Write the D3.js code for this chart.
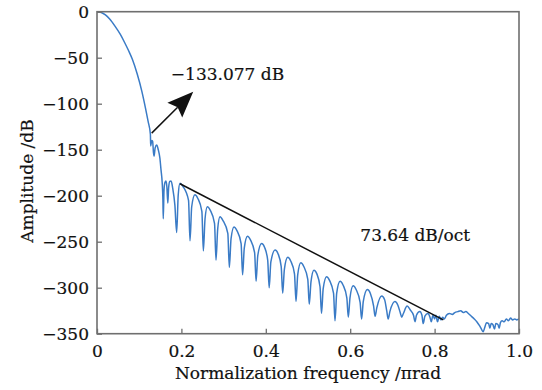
<!DOCTYPE html>
<html>
<head>
<meta charset="utf-8">
<script src="https://cdn.jsdelivr.net/npm/d3@7"></script>
<style>
  body { margin: 0; background: #fff; }
  text { font-family: 'DejaVu Serif', serif; fill: #111; stroke: #111; stroke-width: 0.2px; }
</style>
</head>
<body>
<div id="chart"></div>
<script>
// Spectrum: [normalized frequency, amplitude dB]
var mainLobe = [
  [0, 0], [0.01, -0.8], [0.02, -3.5], [0.03, -8], [0.043, -16], [0.055, -24.5],
  [0.066, -34], [0.075, -42.5], [0.084, -52], [0.0955, -68], [0.106, -86],
  [0.115, -105], [0.121, -119], [0.1265, -133]
]

var nearLobes = [
  [0.1272, -146], [0.1298, -140], [0.1318, -141], [0.1338, -153], [0.1352, -157],
  [0.1378, -148], [0.1414, -145], [0.1452, -150], [0.149, -159], [0.1517, -172],
  [0.1545, -186], [0.1562, -205], [0.157, -225], [0.1588, -194], [0.1608, -186],
  [0.1635, -184], [0.1655, -190], [0.1678, -208], [0.1698, -191], [0.1725, -184.5],
  [0.1755, -184], [0.1795, -192], [0.1845, -210], [0.1888, -240]
]

var sideLobes = [
  [0.1925, -199], [0.1967, -186.5], [0.2037, -190], [0.2169, -205], [0.2204, -249],
  [0.2244, -212], [0.232, -199], [0.239, -203], [0.2485, -217], [0.252, -260],
  [0.256, -225], [0.2615, -212], [0.2685, -216], [0.2785, -230], [0.282, -270],
  [0.286, -236], [0.2915, -223], [0.2985, -227], [0.31, -241], [0.3136, -278],
  [0.3176, -247], [0.3246, -234], [0.3316, -238], [0.3415, -252], [0.345, -286],
  [0.349, -257], [0.3566, -244], [0.3636, -248], [0.3735, -262], [0.377, -293],
  [0.381, -265], [0.39, -252], [0.397, -256], [0.4045, -270], [0.408, -300],
  [0.412, -272], [0.422, -259], [0.429, -263], [0.4365, -277], [0.44, -306],
  [0.444, -280], [0.452, -267], [0.459, -271], [0.468, -285], [0.4716, -315],
  [0.4756, -286], [0.483, -273], [0.49, -277], [0.4995, -291], [0.503, -318],
  [0.507, -294], [0.514, -281], [0.521, -285], [0.5285, -299], [0.532, -328],
  [0.536, -301], [0.544, -288], [0.551, -292], [0.5605, -306], [0.564, -336],
  [0.568, -306], [0.576, -293], [0.583, -297], [0.592, -311], [0.5955, -332],
  [0.5995, -311], [0.607, -298], [0.614, -302], [0.6235, -316], [0.627, -334],
  [0.631, -315], [0.6406, -302], [0.6476, -306], [0.6555, -320], [0.659, -331],
  [0.663, -322], [0.6746, -309], [0.6816, -313], [0.6865, -325], [0.69, -334],
  [0.694, -326], [0.706, -315], [0.713, -319], [0.7185, -327], [0.722, -332],
  [0.726, -328], [0.735, -320], [0.742, -324], [0.75, -330], [0.7536, -337]
]

var tailNoise = [
  [0.757, -330], [0.765, -326], [0.770, -330], [0.773, -339], [0.777, -331],
  [0.784, -328], [0.789, -332], [0.792, -337], [0.796, -330], [0.800, -334],
  [0.803, -330], [0.807, -337], [0.811, -331], [0.815, -335], [0.819, -332],
  [0.823, -334], [0.828, -330], [0.835, -328], [0.842, -329], [0.848, -327],
  [0.855, -326], [0.862, -325], [0.868, -327], [0.874, -326], [0.880, -328],
  [0.887, -331], [0.894, -334], [0.900, -337], [0.906, -341], [0.911, -345],
  [0.915, -348], [0.919, -343], [0.923, -338], [0.928, -339], [0.931, -344],
  [0.934, -339], [0.938, -340], [0.942, -345], [0.945, -339], [0.950, -340],
  [0.953, -344], [0.956, -338], [0.960, -336], [0.965, -337], [0.970, -334],
  [0.975, -336], [0.980, -333], [0.985, -335], [0.990, -334], [0.995, -335],
  [1.0, -334]
]

// Axis ticks
var xTicks = [0, 0.2, 0.4, 0.6, 0.8, 1.0]
var xTickLabels = ['0', '0.2', '0.4', '0.6', '0.8', '1.0']
var yTicks = [0, -50, -100, -150, -200, -250, -300, -350]
var yTickLabels = ['0', '\u221250', '\u2212100', '\u2212150', '\u2212200', '\u2212250', '\u2212300', '\u2212350']

// Annotations
var arrowStart = [0.1296, -132]
var arrowEnd = [0.228, -87]
var slopeStart = [0.1967, -187]
var slopeEnd = [0.8207, -335]
var annotationTexts = ['\u2212133.077 dB', '73.64 dB/oct']
var annotationPos = [[0.175, -74], [0.624, -249]]

// Layout
var width = 542
var height = 390
var margin = { top: 11.7, right: 23, bottom: 56.3, left: 97 }
var plotW = width - margin.left - margin.right
var plotH = height - margin.top - margin.bottom
var axisColour = '#6f6f6f'
var lineColour = '#3a7bc6'
var fontSize = '17px'

var svg = d3.select('#chart').append('svg')
  .attr('width', width)
  .attr('height', height)

var g = svg.append('g')
  .attr('transform', 'translate(' + margin.left + ',' + margin.top + ')')

var x = d3.scaleLinear().domain([0, 1]).range([0, plotW])
var y = d3.scaleLinear().domain([-350, 0]).range([plotH, 0])

g.append('clipPath').attr('id', 'plotClip')
  .append('rect').attr('width', plotW).attr('height', plotH)

// Spectrum curve
var spectrum = mainLobe.concat(nearLobes, sideLobes, tailNoise)

var line = d3.line()
  .x(function (d) { return x(d[0]) })
  .y(function (d) { return y(d[1]) })
  .curve(d3.curveMonotoneX)

g.append('path')
  .datum(spectrum)
  .attr('clip-path', 'url(#plotClip)')
  .attr('d', line)
  .style('fill', 'none')
  .style('stroke', lineColour)
  .style('stroke-width', 1.5)
  .style('stroke-linejoin', 'round')

// Axes with inward ticks
g.append('g')
  .attr('transform', 'translate(0,' + plotH + ')')
  .call(d3.axisBottom(x)
    .tickValues(xTicks)
    .tickSize(-5)
    .tickPadding(11)
    .tickFormat(function (d, i) { return xTickLabels[i] }))

g.append('g')
  .call(d3.axisLeft(y)
    .tickValues(yTicks)
    .tickSize(-5)
    .tickPadding(8)
    .tickFormat(function (d, i) { return yTickLabels[i] }))

g.selectAll('.domain').remove()
g.selectAll('.tick line').style('stroke', axisColour).style('stroke-width', 1.3)
g.selectAll('.tick text')
  .style('font-family', "'DejaVu Serif', serif")
  .style('font-size', fontSize)
  .style('fill', '#111')

// Frame
g.append('rect')
  .attr('width', plotW)
  .attr('height', plotH)
  .style('fill', 'none')
  .style('stroke', axisColour)
  .style('stroke-width', 1.6)

// Slope line
g.append('line')
  .attr('x1', x(slopeStart[0])).attr('y1', y(slopeStart[1]))
  .attr('x2', x(slopeEnd[0])).attr('y2', y(slopeEnd[1]))
  .style('stroke', '#111')
  .style('stroke-width', 1.5)

// Arrow to the first sidelobe
var ax1 = x(arrowStart[0])
var ay1 = y(arrowStart[1])
var ax2 = x(arrowEnd[0])
var ay2 = y(arrowEnd[1])
var ang = Math.atan2(ay2 - ay1, ax2 - ax1)
var headLen = 26
var headHalf = 10.5
var bx = ax2 - headLen * Math.cos(ang)
var by = ay2 - headLen * Math.sin(ang)
var nx = ax2 - (headLen - 4) * Math.cos(ang)
var ny = ay2 - (headLen - 4) * Math.sin(ang)

g.append('line')
  .attr('x1', ax1).attr('y1', ay1)
  .attr('x2', nx).attr('y2', ny)
  .style('stroke', '#111')
  .style('stroke-width', 1.5)

g.append('path')
  .attr('d', 'M' + ax2 + ',' + ay2 +
    'L' + (bx - headHalf * Math.sin(ang)) + ',' + (by + headHalf * Math.cos(ang)) +
    'L' + nx + ',' + ny +
    'L' + (bx + headHalf * Math.sin(ang)) + ',' + (by - headHalf * Math.cos(ang)) + 'Z')
  .style('fill', '#111')

// Annotation texts
g.selectAll('.annot')
  .data(annotationTexts)
  .enter().append('text')
  .attr('class', 'annot')
  .attr('x', function (d, i) { return x(annotationPos[i][0]) })
  .attr('y', function (d, i) { return y(annotationPos[i][1]) })
  .style('font-size', fontSize)
  .text(function (d) { return d })

// Axis titles
svg.append('text')
  .attr('x', margin.left + plotW / 2)
  .attr('y', 379)
  .attr('text-anchor', 'middle')
  .style('font-size', fontSize)
  .text('Normalization frequency /\u03c0rad')

svg.append('text')
  .attr('transform', 'translate(33,181) rotate(-90)')
  .attr('text-anchor', 'middle')
  .style('font-size', fontSize)
  .text('Amplitude /dB')
</script>
</body>
</html>
